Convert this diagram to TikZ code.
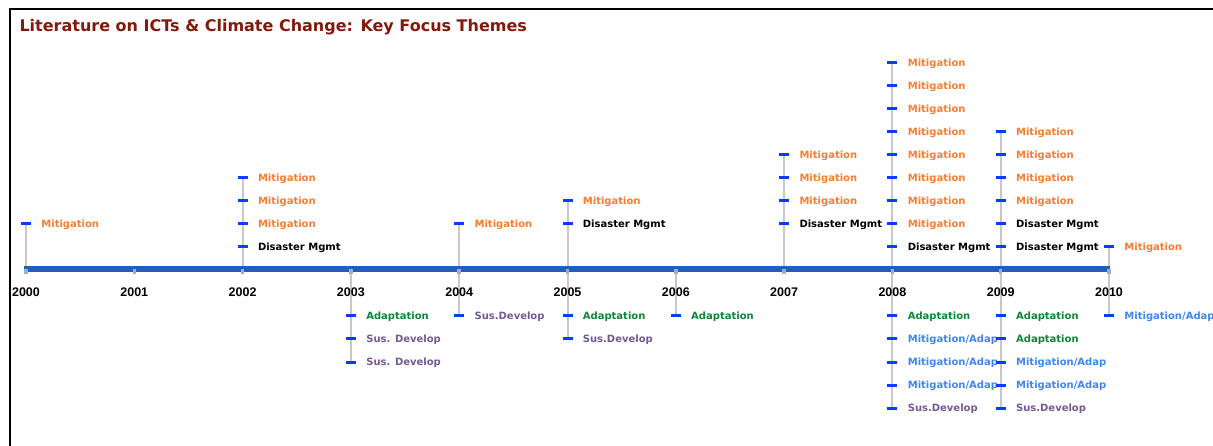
\documentclass[tikz,border=0pt]{standalone}
\usepackage{fontspec}
\setmainfont{DejaVu Sans}
\newfontfamily\yearfont{Liberation Sans}
\usetikzlibrary{positioning,backgrounds}

\definecolor{mitorange}{RGB}{250,125,45}
\definecolor{adagreen}{RGB}{10,135,55}
\definecolor{suspurple}{RGB}{115,90,150}
\definecolor{madblue}{RGB}{60,135,240}
\definecolor{titlered}{RGB}{130,25,10}
\definecolor{axisblue}{RGB}{28,98,183}
\definecolor{markblue}{RGB}{10,60,255}
\definecolor{stemgrey}{RGB}{200,200,200}
\definecolor{tickblue}{RGB}{150,175,215}

\newcommand\madtxt{Mitigation/Adap}

\tikzset{
    lbl/.style={font=\bfseries\fontsize{10}{12}\selectfont, inner sep=0pt,
        text height=7.5pt, text depth=0pt, anchor=west},
    mit/.style={lbl, text=mitorange},
    dis/.style={lbl, text=black},
    ada/.style={lbl, text=adagreen},
    sus/.style={lbl, text=suspurple},
    mad/.style={lbl, text=madblue},
    marker/.style={rectangle, fill=markblue, minimum width=10pt,
        minimum height=3pt, inner sep=0pt},
    stem/.style={draw=stemgrey, line width=2pt},
    yr/.style={font=\yearfont\bfseries\fontsize{12.5}{14}\selectfont, inner sep=0pt}
}

\begin{document}
\begin{tikzpicture}[x=1pt,y=-1pt]
    \useasboundingbox (0,0) rectangle (1213,446);
    % frame and title
    \draw[line width=2pt] (10,470) |- (1240,9);
    \node[anchor=base west, text=titlered,
        font=\bfseries\fontsize{16}{19}\selectfont] (title) at (16,31.5)
        {Literature on ICTs \& Climate Change: Key Focus Themes};

    % years on the time line
    \foreach \i in {0,...,10}
        \coordinate (t\i) at ({26+108.3*\i},269);
    \draw[axisblue, line width=6pt] ([xshift=-2pt]t0) -- ([xshift=1pt]t10);
    \foreach \i in {0,...,10} {
        \draw[tickblue, line width=3.5pt] (t\i) -- ++(0,5);
        \node[yr] (y\i) at ({26+108.3*\i},292) {\the\numexpr2000+\i\relax};
    }

    % themes: year / row / style / text
    \foreach \i/\y/\st/\txt in {
        0/224/mit/Mitigation,
        2/247/dis/Disaster Mgmt, 2/224/mit/Mitigation, 2/201/mit/Mitigation,
        2/178/mit/Mitigation,
        3/316/ada/Adaptation, 3/339/sus/Sus. Develop, 3/362/sus/Sus. Develop,
        4/224/mit/Mitigation, 4/316/sus/Sus.Develop,
        5/224/dis/Disaster Mgmt, 5/201/mit/Mitigation,
        5/316/ada/Adaptation, 5/339/sus/Sus.Develop,
        6/316/ada/Adaptation,
        7/224/dis/Disaster Mgmt, 7/201/mit/Mitigation, 7/178/mit/Mitigation,
        7/155/mit/Mitigation,
        8/247/dis/Disaster Mgmt, 8/224/mit/Mitigation, 8/201/mit/Mitigation,
        8/178/mit/Mitigation, 8/155/mit/Mitigation, 8/132/mit/Mitigation,
        8/109/mit/Mitigation, 8/86/mit/Mitigation, 8/63/mit/Mitigation,
        8/316/ada/Adaptation, 8/339/mad/\madtxt, 8/362/mad/\madtxt,
        8/385/mad/\madtxt, 8/408/sus/Sus.Develop,
        9/247/dis/Disaster Mgmt, 9/224/dis/Disaster Mgmt, 9/201/mit/Mitigation,
        9/178/mit/Mitigation, 9/155/mit/Mitigation, 9/132/mit/Mitigation,
        9/316/ada/Adaptation, 9/339/ada/Adaptation, 9/362/mad/\madtxt,
        9/385/mad/\madtxt, 9/408/sus/Sus.Develop,
        10/247/mit/Mitigation, 10/316/mad/\madtxt} {
        \node[marker] (m\i-\y) at ({26+108.3*\i},\y) {};
        \node[\st, right=10pt of m\i-\y] (l\i-\y) {\txt};
    }

    % stems behind markers
    \begin{scope}[on background layer]
        \foreach \a/\b in {m0-224/t0, m2-178/t2, t3/m3-362, m4-224/m4-316,
            m5-201/m5-339, t6/m6-316, m7-155/t7, m8-63/m8-408,
            m9-132/m9-408, m10-247/m10-316}
            \draw[stem] (\a.center) -- (\b.center);
    \end{scope}
\end{tikzpicture}
\end{document}
